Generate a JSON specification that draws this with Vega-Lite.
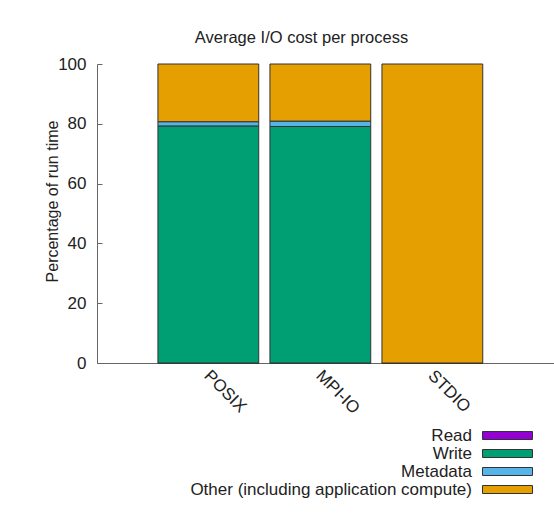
{
  "$schema": "https://vega.github.io/schema/vega-lite/v6.json",
  "autosize": "none",
  "width": 457,
  "height": 299,
  "padding": {"left": 97, "top": 64, "right": 0, "bottom": 156},
  "background": "white",
  "config": {
    "font": "Liberation Sans",
    "view": {"stroke": null},
    "axis": {"labelFont": "Liberation Sans", "titleFont": "Liberation Sans", "labelColor": "#222", "titleColor": "#222", "domainColor": "#666", "tickColor": "#666"}
  },
  "title": {
    "text": "Average I/O cost per process",
    "fontSize": 16.5,
    "fontWeight": "normal",
    "color": "#222",
    "anchor": "middle",
    "dx": -24,
    "offset": 9
  },
  "data": {
    "values": [
      {"api": "POSIX", "category": "Read", "value": 0.0, "ord": 0},
      {"api": "POSIX", "category": "Write", "value": 79.3, "ord": 1},
      {"api": "POSIX", "category": "Metadata", "value": 1.4, "ord": 2},
      {"api": "POSIX", "category": "Other (including application compute)", "value": 19.3, "ord": 3},
      {"api": "MPI-IO", "category": "Read", "value": 0.0, "ord": 0},
      {"api": "MPI-IO", "category": "Write", "value": 79.1, "ord": 1},
      {"api": "MPI-IO", "category": "Metadata", "value": 1.8, "ord": 2},
      {"api": "MPI-IO", "category": "Other (including application compute)", "value": 19.1, "ord": 3},
      {"api": "STDIO", "category": "Read", "value": 0.0, "ord": 0},
      {"api": "STDIO", "category": "Write", "value": 0.0, "ord": 1},
      {"api": "STDIO", "category": "Metadata", "value": 0.0, "ord": 2},
      {"api": "STDIO", "category": "Other (including application compute)", "value": 100.0, "ord": 3}
    ]
  },
  "mark": {"type": "bar", "stroke": "#333", "strokeWidth": 1},
  "encoding": {
    "x": {
      "field": "api",
      "type": "nominal",
      "sort": ["POSIX", "MPI-IO", "STDIO"],
      "scale": {"paddingInner": 0.1, "paddingOuter": 0.59, "align": 0.461},
      "axis": {
        "title": null,
        "labelAngle": 45,
        "labelAlign": "left",
        "labelBaseline": "top",
        "labelFontSize": 17,
        "labelPadding": 4,
        "labelOffset": 4,
        "ticks": false,
        "domainColor": "#666"
      }
    },
    "y": {
      "field": "value",
      "type": "quantitative",
      "stack": "zero",
      "scale": {"domain": [0, 100], "nice": false},
      "axis": {
        "title": "Percentage of run time",
        "titleFontSize": 16,
        "titleFontWeight": "normal",
        "titleAngle": -90,
        "titleBaseline": "alphabetic",
        "titleX": -40,
        "titleY": 137,
        "values": [0, 20, 40, 60, 80, 100],
        "labelFontSize": 17,
        "tickSize": -5,
        "labelPadding": 16,
        "grid": false
      }
    },
    "color": {
      "field": "category",
      "type": "nominal",
      "scale": {
        "domain": ["Read", "Write", "Metadata", "Other (including application compute)"],
        "range": ["#9400d3", "#009e73", "#56b4e9", "#e69f00"]
      },
      "legend": {
        "title": null,
        "orient": "none",
        "legendX": 402,
        "legendY": 363,
        "symbolType": "M-6.25,-1H6.25V1H-6.25Z",
        "symbolSize": 64,
        "symbolStrokeColor": "#333",
        "symbolStrokeWidth": 1,
        "labelAlign": "right",
        "labelOffset": -44,
        "labelFontSize": 17,
        "labelColor": "#222",
        "labelLimit": 500,
        "rowPadding": 0
      }
    },
    "order": {"field": "ord", "type": "quantitative"}
  }
}
